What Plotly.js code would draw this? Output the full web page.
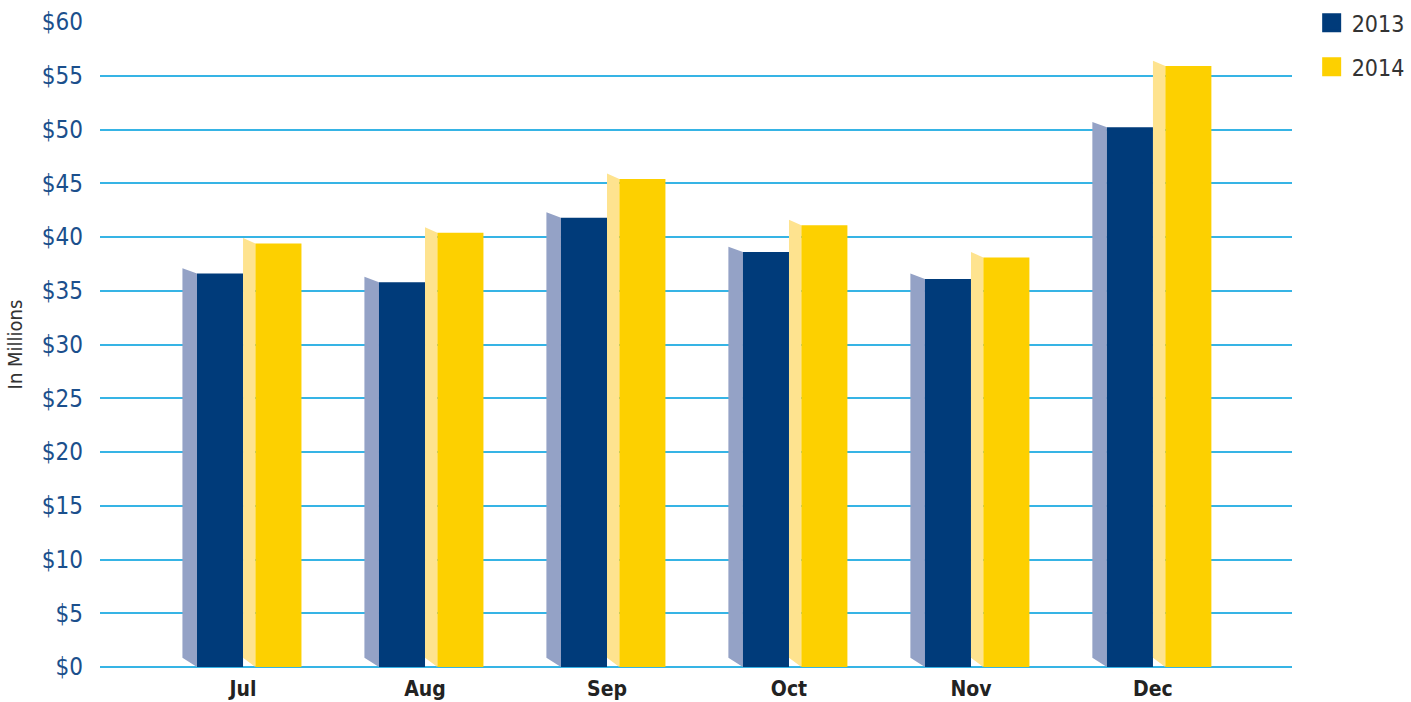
<!DOCTYPE html>
<html>
<head>
<meta charset="utf-8">
<script src="https://cdn.plot.ly/plotly-3.0.1.min.js"></script>
<style>html,body{margin:0;padding:0;background:#fff;}#chart{width:1411px;height:702px;}</style>
</head>
<body>
<div id="chart"></div>
<script>
// ---- data ----
const months = ["Jul", "Aug", "Sep", "Oct", "Nov", "Dec"];
const sales2013 = [36.6, 35.8, 41.8, 38.6, 36.1, 50.2];
const sales2014 = [39.4, 40.4, 45.4, 41.1, 38.1, 55.9];
const seriesNames = ["2013", "2014"];
const yTicks = [0, 5, 10, 15, 20, 25, 30, 35, 40, 45, 50, 55, 60];
const yTickText = ["$0", "$5", "$10", "$15", "$20", "$25", "$30", "$35", "$40", "$45", "$50", "$55", "$60"];

// ---- style ----
const FONT = '"Liberation Sans Narrow", "DejaVu Sans Condensed", "Liberation Sans", sans-serif';
const front = ["#003B7A", "#FDD000"];
const side = ["#94A2C6", "#FEE38F"];
const grid = "#36B4E5";

// geometry in category units
const barW = 0.253;
const frontLeft = [-0.253, 0.068];
const sideW = [0.08, 0.068];
const sideTopLift = 0.5;   // value units
const sideBottomLift = 0.85;

const xIdx = months.map((m, i) => i);
const traces = [];
[sales2013, sales2014].forEach((vals, s) => {
  const sx = [], sy = [];
  vals.forEach((v, i) => {
    const xr = i + frontLeft[s];
    const xl = xr - sideW[s];
    sx.push(xl, xr, xr, xl, xl, null);
    sy.push(v + sideTopLift, v, 0, sideBottomLift, v + sideTopLift, null);
  });
  traces.push({
    type: "scatter", mode: "lines", x: sx, y: sy, fill: "toself",
    fillcolor: side[s], line: {width: 0, color: side[s]},
    hoverinfo: "skip", showlegend: false
  });
  traces.push({
    type: "scatter", mode: "lines",
    x: vals.flatMap((v, i) => [i + frontLeft[s], i + frontLeft[s] + barW, i + frontLeft[s] + barW, i + frontLeft[s], i + frontLeft[s], null]),
    y: vals.flatMap((v) => [0, 0, v, v, 0, null]),
    fill: "toself", fillcolor: front[s], line: {width: 0, color: front[s]},
    name: seriesNames[s], showlegend: false, hoverinfo: "skip"
  });
});
seriesNames.forEach((n, s) => {
  traces.push({
    type: "scatter", mode: "markers", x: [null], y: [null], name: n,
    legendgroup: n,
    marker: {symbol: "square", size: 16, color: front[s], line: {width: 3, color: front[s]}}
  });
});

const layout = {
  width: 1411, height: 702,
  margin: {l: 100, r: 119, t: 22, b: 35, autoexpand: false},
  paper_bgcolor: "#fff", plot_bgcolor: "#fff",
  showlegend: true,
  legend: {
    x: 1.0165, xanchor: "left", y: 1.032, yanchor: "top",
    font: {family: FONT, size: 23, color: "#333"},
    tracegroupgap: 11, itemwidth: 30
  },
  xaxis: {
    range: [-0.786, 5.764], tickmode: "array", tickvals: xIdx, ticktext: months,
    showgrid: false, zeroline: false, showline: false, ticks: "",
    tickfont: {family: FONT, size: 21, color: "#222", weight: "bold"},
    ticklabelstandoff: 7, fixedrange: true
  },
  yaxis: {
    range: [0, 60], tickmode: "array", tickvals: yTicks, ticktext: yTickText,
    showgrid: true, gridcolor: grid, gridwidth: 2,
    zeroline: true, zerolinecolor: grid, zerolinewidth: 2,
    showline: false, ticks: "",
    tickfont: {family: FONT, size: 24, color: "#1B4F8C"},
    ticklabelstandoff: 16,
    title: {text: "In Millions", font: {family: FONT, size: 20, color: "#333"}, standoff: 13},
    fixedrange: true
  }
};

Plotly.newPlot("chart", traces, layout, {displayModeBar: false, staticPlot: true});
</script>
</body>
</html>
